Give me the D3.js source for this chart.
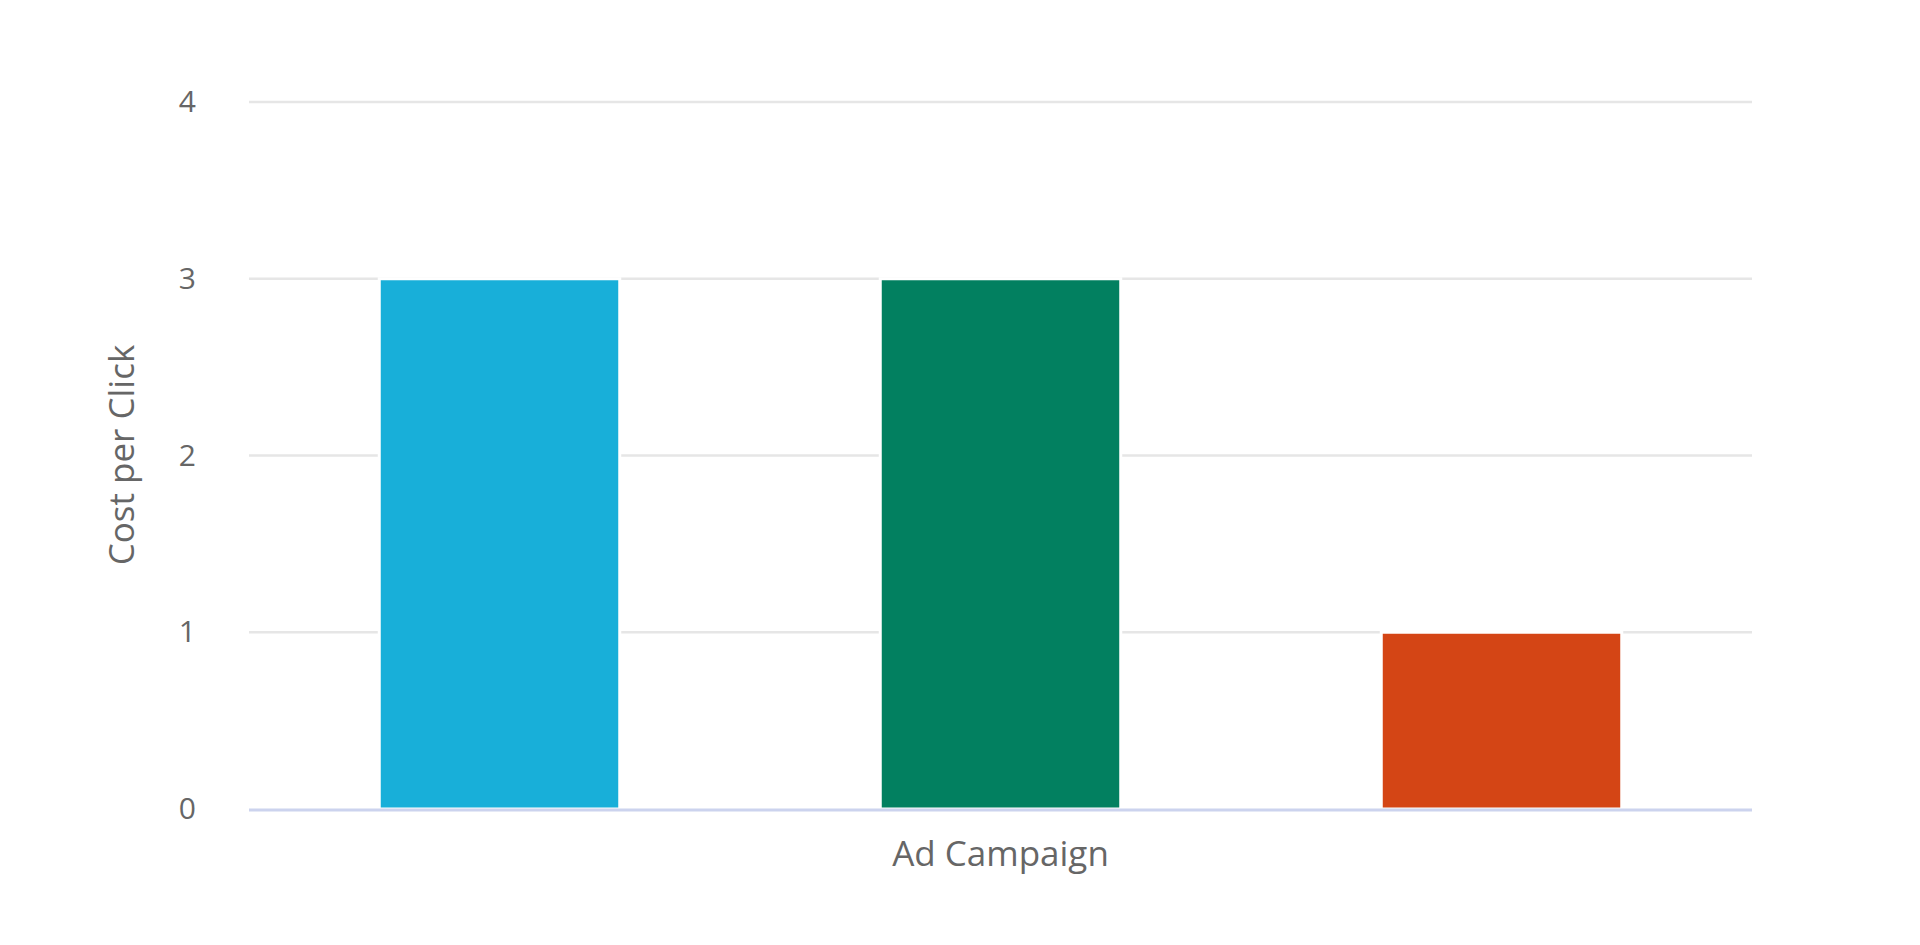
<!DOCTYPE html><html><head><meta charset="utf-8"><script src="https://cdn.jsdelivr.net/npm/d3@7"></script>
<style>body{margin:0;background:#fff}text{font-family:"Open Sans",sans-serif;fill:#666}</style></head><body>
<svg id="c" width="1920" height="945"></svg>
<script>
const categories=["Campaign A","Campaign B","Campaign C"];
const values=[3,3,1];
const colors=["#18afd9","#028060","#d44515"];
const yTicks=[0,1,2,3,4];
const svg=d3.select("#c");
const m={l:249,r:1752,t:102,b:809};
const x=d3.scaleBand().domain(categories).range([m.l,m.r]).paddingInner(0.52).paddingOuter(0.26);
const y=d3.scaleLinear().domain([0,4]).range([m.b,m.t]);
svg.append("g").selectAll("line").data(yTicks.slice(1)).join("line")
 .attr("x1",m.l).attr("x2",m.r).attr("y1",d=>y(d)).attr("y2",d=>y(d)).attr("stroke","#e6e6e6").attr("stroke-width",2.5);
svg.append("g").selectAll("text").data(yTicks).join("text")
 .attr("x",196).attr("y",d=>y(d)+10).attr("text-anchor","end").attr("font-size",30).text(d=>d);
svg.append("g").selectAll("rect").data(values).join("rect")
 .attr("x",(d,i)=>x(categories[i])).attr("width",x.bandwidth()).attr("y",d=>y(d)).attr("height",d=>y(0)-y(d))
 .attr("fill",(d,i)=>colors[i]).attr("stroke","#fff").attr("stroke-width",3);
svg.append("line").attr("x1",m.l).attr("x2",m.r).attr("y1",y(0)+1).attr("y2",y(0)+1).attr("stroke","#ccd3ee").attr("stroke-width",3);
svg.append("text").attr("x",(m.l+m.r)/2).attr("y",866).attr("text-anchor","middle").attr("font-size",35).text("Ad Campaign");
svg.append("text").attr("transform","translate(134,455) rotate(-90)").attr("text-anchor","middle").attr("font-size",35).text("Cost per Click");
</script></body></html>
